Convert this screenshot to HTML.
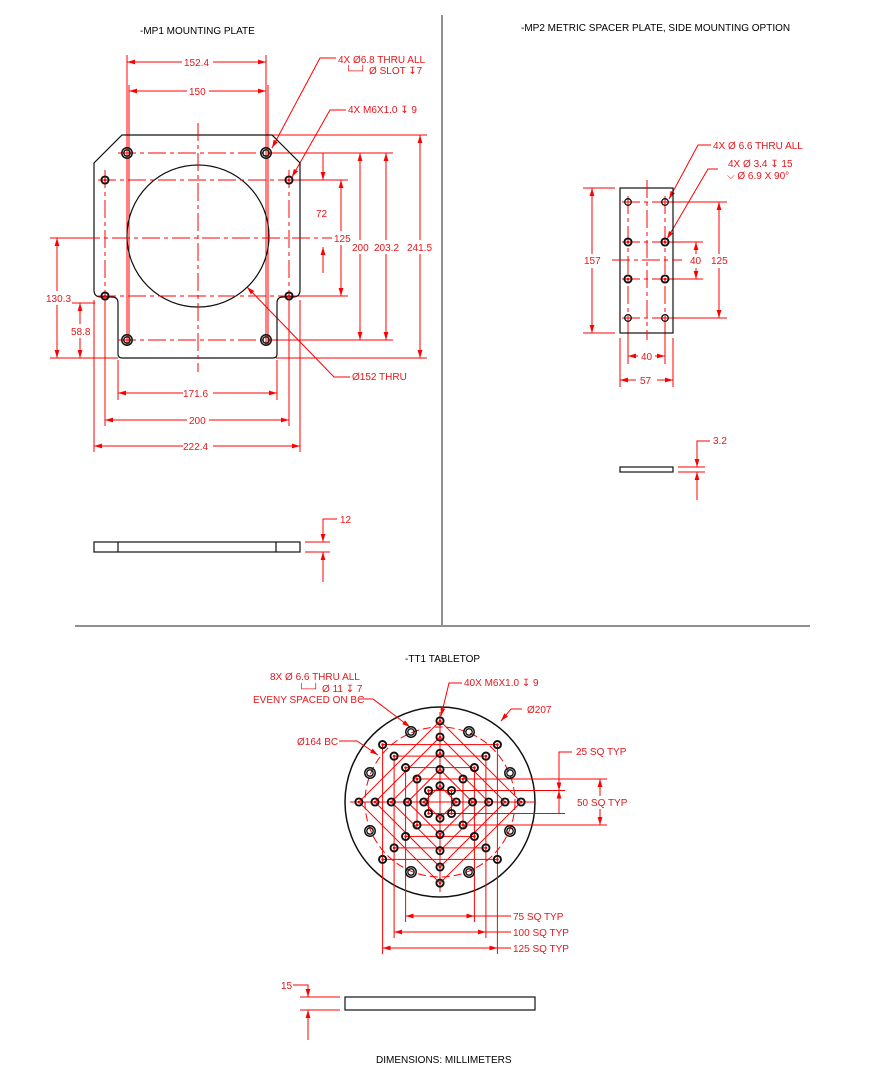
<!DOCTYPE html>
<html><head><meta charset="utf-8"><style>
html,body{margin:0;padding:0;background:#fff;}
svg{display:block;}
text{font-family:"Liberation Sans",sans-serif;font-size:10px;fill:#e8141a;}
text.k{fill:#000;}
.r{stroke:#f00;stroke-width:1;fill:none;}
.b{stroke:#111;stroke-width:1.2;fill:none;}
.cl{stroke:#f00;stroke-width:1;fill:none;stroke-dasharray:18 4 4 4;}
.hd{stroke:#f00;stroke-width:1;fill:none;stroke-dasharray:8 4;}
</style></head><body>
<svg width="879" height="1080" viewBox="0 0 879 1080" xmlns="http://www.w3.org/2000/svg">
<defs>
<marker id="a" viewBox="0 0 10 6" refX="10" refY="3" markerWidth="8" markerHeight="5" orient="auto-start-reverse" markerUnits="userSpaceOnUse"><path d="M0,0 L10,3 L0,6 z" fill="#f00"/></marker>
<g id="h"><circle r="3.6" fill="none" stroke="#111" stroke-width="1.9"/><circle r="1.3" fill="#f00"/></g>
<g id="H"><circle r="5.2" fill="none" stroke="#111" stroke-width="1.5"/><circle r="3.2" fill="none" stroke="#111" stroke-width="1.3"/></g>
</defs>

<line x1="442" y1="15" x2="442" y2="625" stroke="#222" stroke-width="1"/>
<line x1="75" y1="626" x2="810" y2="626" stroke="#222" stroke-width="1"/>

<text class="k" x="140" y="34">-MP1 MOUNTING PLATE</text>
<text class="k" x="521" y="31">-MP2 METRIC SPACER PLATE, SIDE MOUNTING OPTION</text>
<text class="k" x="405" y="662">-TT1 TABLETOP</text>
<text class="k" x="376" y="1063">DIMENSIONS:  MILLIMETERS</text>

<!-- ===== MP1 ===== -->
<g class="r">
<line x1="127" y1="55" x2="127" y2="345"/><line x1="266" y1="55" x2="266" y2="345"/>
<line x1="129" y1="85" x2="129" y2="345"/><line x1="268" y1="85" x2="268" y2="345"/>
<line x1="272" y1="135" x2="427" y2="135"/>
<line x1="270" y1="153" x2="393" y2="153"/>
<line x1="270" y1="340" x2="393" y2="340"/>
<line x1="293" y1="180" x2="348" y2="180"/>
<line x1="293" y1="296" x2="348" y2="296"/>
<line x1="50" y1="358" x2="118" y2="358"/><line x1="276" y1="358" x2="427" y2="358"/>
<line x1="50" y1="238" x2="95" y2="238"/>
<line x1="70" y1="303" x2="95" y2="303"/>
<line x1="118" y1="360" x2="118" y2="400"/><line x1="277" y1="360" x2="277" y2="400"/>
<line x1="105" y1="300" x2="105" y2="426"/><line x1="289" y1="300" x2="289" y2="426"/>
<line x1="94" y1="300" x2="94" y2="452"/><line x1="300" y1="300" x2="300" y2="452"/>
</g>
<g class="r">
<line x1="127" y1="62" x2="182" y2="62" marker-start="url(#a)"/><line x1="213" y1="62" x2="266" y2="62" marker-end="url(#a)"/>
<line x1="129" y1="91" x2="187" y2="91" marker-start="url(#a)"/><line x1="209" y1="91" x2="266" y2="91" marker-end="url(#a)"/>
<line x1="118" y1="393" x2="183" y2="393" marker-start="url(#a)"/><line x1="213" y1="393" x2="277" y2="393" marker-end="url(#a)"/>
<line x1="105" y1="420" x2="187" y2="420" marker-start="url(#a)"/><line x1="209" y1="420" x2="289" y2="420" marker-end="url(#a)"/>
<line x1="94" y1="446" x2="183" y2="446" marker-start="url(#a)"/><line x1="213" y1="446" x2="300" y2="446" marker-end="url(#a)"/>
<line x1="323" y1="153" x2="323" y2="180" marker-end="url(#a)"/>
<line x1="323" y1="273" x2="323" y2="247" marker-end="url(#a)"/>
<line x1="341" y1="180" x2="341" y2="296" marker-start="url(#a)" marker-end="url(#a)"/>
<line x1="360" y1="153" x2="360" y2="340" marker-start="url(#a)" marker-end="url(#a)"/>
<line x1="386" y1="153" x2="386" y2="340" marker-start="url(#a)" marker-end="url(#a)"/>
<line x1="420" y1="135" x2="420" y2="358" marker-start="url(#a)" marker-end="url(#a)"/>
<line x1="57" y1="238" x2="57" y2="358" marker-start="url(#a)" marker-end="url(#a)"/>
<line x1="80" y1="303" x2="80" y2="358" marker-start="url(#a)" marker-end="url(#a)"/>
<polyline points="336,58 320,58 272,148" marker-end="url(#a)"/>
<polyline points="346,110 330,110 292,177" marker-end="url(#a)"/>
<polyline points="350,377 334,377 247,287" marker-end="url(#a)"/>
</g>
<g fill="#fff">
<rect x="332" y="231" width="22" height="14"/><rect x="350" y="240" width="21" height="14"/><rect x="373" y="240" width="28" height="14"/><rect x="405" y="240" width="30" height="14"/>
<rect x="313" y="206" width="16" height="14"/>
<rect x="40" y="291" width="32" height="14"/><rect x="66" y="324" width="26" height="14"/>
</g>
<text x="184" y="66">152.4</text><text x="189" y="95">150</text>
<text x="183" y="397">171.6</text><text x="189" y="424">200</text><text x="183" y="450">222.4</text>
<text x="316" y="217">72</text><text x="334" y="242">125</text><text x="352" y="251">200</text><text x="374" y="251">203.2</text><text x="407" y="251">241.5</text>
<text x="46" y="302">130.3</text><text x="71" y="335">58.8</text>
<text x="338" y="63">4X Ø6.8 THRU ALL</text>
<text x="345" y="74">└─┘ Ø SLOT ↧7</text>
<text x="348" y="113">4X M6X1.0 ↧ 9</text>
<text x="352" y="380">Ø152 THRU</text>
<path class="b" d="M122,135 L272,135 L300,163 L300,290 Q300,297 293,297 L283,297 Q277,297 277,303 L277,354 Q277,358 273,358 L122,358 Q118,358 118,354 L118,303 Q118,297 112,297 L101,297 Q94,297 94,290 L94,163 Z"/>
<circle class="b" cx="198" cy="236" r="71"/>
<g class="cl">
<line x1="198" y1="123" x2="198" y2="372"/>
<line x1="82" y1="238" x2="332" y2="238"/>
<line x1="105" y1="170" x2="105" y2="305"/><line x1="289" y1="170" x2="289" y2="305"/>
<line x1="98" y1="180" x2="300" y2="180"/><line x1="98" y1="296" x2="300" y2="296"/>
<line x1="118" y1="153" x2="275" y2="153"/><line x1="118" y1="340" x2="275" y2="340"/>
</g>
<use href="#H" x="127" y="153"/><use href="#H" x="266" y="153"/><use href="#H" x="127" y="340"/><use href="#H" x="266" y="340"/>
<use href="#h" x="105" y="180"/><use href="#h" x="289" y="180"/><use href="#h" x="105" y="296"/><use href="#h" x="289" y="296"/>
<rect class="b" x="94" y="542" width="206" height="10"/>
<line class="b" x1="118" y1="542" x2="118" y2="552"/><line class="b" x1="276" y1="542" x2="276" y2="552"/>
<g class="r">
<line x1="305" y1="542" x2="330" y2="542"/><line x1="305" y1="552" x2="330" y2="552"/>
<polyline points="337,519 323,519 323,542" marker-end="url(#a)"/>
<line x1="323" y1="582" x2="323" y2="552" marker-end="url(#a)"/>
</g>
<text x="340" y="523">12</text>

<!-- ===== MP2 ===== -->
<g class="r">
<line x1="583" y1="188" x2="615" y2="188"/><line x1="583" y1="333" x2="615" y2="333"/>
<line x1="670" y1="202" x2="727" y2="202"/><line x1="670" y1="318" x2="727" y2="318"/>
<line x1="670" y1="242" x2="703" y2="242"/><line x1="670" y1="279" x2="703" y2="279"/>
<line x1="620" y1="338" x2="620" y2="387"/><line x1="673" y1="338" x2="673" y2="387"/>
<line x1="628" y1="320" x2="628" y2="364"/><line x1="665" y1="320" x2="665" y2="364"/>
<line x1="592" y1="188" x2="592" y2="333" marker-start="url(#a)" marker-end="url(#a)"/>
<line x1="719" y1="202" x2="719" y2="318" marker-start="url(#a)" marker-end="url(#a)"/>
<line x1="696" y1="242" x2="696" y2="279" marker-start="url(#a)" marker-end="url(#a)"/>
<line x1="628" y1="356" x2="638" y2="356" marker-start="url(#a)"/><line x1="655" y1="356" x2="665" y2="356" marker-end="url(#a)"/>
<line x1="620" y1="380" x2="636" y2="380" marker-start="url(#a)"/><line x1="657" y1="380" x2="673" y2="380" marker-end="url(#a)"/>
<polyline points="711,145 698,145 669,199" marker-end="url(#a)"/>
<polyline points="718,169 708,169 667,239" marker-end="url(#a)"/>
</g>
<g fill="#fff"><rect x="582" y="254" width="22" height="14"/><rect x="688" y="254" width="16" height="14"/><rect x="709" y="254" width="22" height="14"/></g>
<text x="584" y="264">157</text><text x="690" y="264">40</text><text x="711" y="264">125</text>
<text x="641" y="360">40</text><text x="640" y="384">57</text>
<text x="713" y="149">4X  Ø  6.6 THRU ALL</text>
<text x="728" y="167">4X  Ø  3.4 ↧ 15</text>
<text x="727" y="179">⌵  Ø  6.9 X 90°</text>
<rect class="b" x="620" y="188" width="53" height="145"/>
<g class="cl">
<line x1="647" y1="180" x2="647" y2="340"/>
<line x1="612" y1="260" x2="682" y2="260"/>
<line x1="628" y1="196" x2="628" y2="324"/><line x1="665" y1="196" x2="665" y2="324"/>
<line x1="622" y1="202" x2="671" y2="202"/><line x1="622" y1="242" x2="671" y2="242"/><line x1="622" y1="279" x2="671" y2="279"/><line x1="622" y1="318" x2="671" y2="318"/>
</g>
<g fill="none" stroke="#111" stroke-width="1.3">
<circle cx="628" cy="202" r="3.3"/><circle cx="665" cy="202" r="3.3"/><circle cx="628" cy="318" r="3.3"/><circle cx="665" cy="318" r="3.3"/>
</g>
<use href="#h" x="628" y="242"/><use href="#h" x="665" y="242"/><use href="#h" x="628" y="279"/><use href="#h" x="665" y="279"/>
<rect class="b" x="620" y="467" width="53" height="5"/>
<g class="r">
<line x1="678" y1="467" x2="705" y2="467"/><line x1="678" y1="472" x2="705" y2="472"/>
<polyline points="710,441 697,441 697,467" marker-end="url(#a)"/>
<line x1="697" y1="500" x2="697" y2="472" marker-end="url(#a)"/>
</g>
<text x="713" y="444">3.2</text>

<!-- ===== TT1 ===== -->
<circle cx="440" cy="802" r="95" fill="none" stroke="#111" stroke-width="1.5"/>
<circle cx="440" cy="802" r="75" class="hd"/>
<g class="r">
<rect x="428.5" y="790.5" width="23" height="23"/>
<rect x="417" y="779" width="46" height="46"/>
<rect x="405.6" y="767.6" width="68.8" height="68.8"/>
<rect x="394.1" y="756.1" width="91.8" height="91.8"/>
<rect x="382.6" y="744.6" width="114.8" height="114.8"/>
<polygon points="440,785.8 456.2,802 440,818.2 423.8,802"/>
<polygon points="440,769.5 472.5,802 440,834.5 407.5,802"/>
<polygon points="440,753.3 488.7,802 440,850.7 391.3,802"/>
<polygon points="440,737 505,802 440,867 375,802"/>
<polygon points="440,720.9 521.1,802 440,883.1 358.9,802"/>
<line x1="350" y1="802" x2="535" y2="802"/>
<line x1="440" y1="712" x2="440" y2="892"/>
<line x1="452" y1="790.5" x2="565" y2="790.5"/><line x1="452" y1="813.5" x2="565" y2="813.5"/>
<line x1="464" y1="779" x2="607" y2="779"/><line x1="464" y1="825" x2="607" y2="825"/>
<line x1="405.6" y1="837" x2="405.6" y2="922"/><line x1="474.4" y1="837" x2="474.4" y2="922"/>
<line x1="394.1" y1="849" x2="394.1" y2="938"/><line x1="485.9" y1="849" x2="485.9" y2="938"/>
<line x1="382.6" y1="860" x2="382.6" y2="954"/><line x1="497.4" y1="860" x2="497.4" y2="954"/>
<polyline points="572,752 559,752 559,790.5" marker-end="url(#a)"/>
<line x1="559" y1="813.5" x2="559" y2="790.5" marker-end="url(#a)"/>
<line x1="600" y1="779" x2="600" y2="825" marker-start="url(#a)" marker-end="url(#a)"/>
<line x1="405.6" y1="916" x2="474.4" y2="916" marker-start="url(#a)" marker-end="url(#a)"/><line x1="474" y1="916" x2="511" y2="916"/>
<line x1="394.1" y1="932" x2="485.9" y2="932" marker-start="url(#a)" marker-end="url(#a)"/><line x1="486" y1="932" x2="511" y2="932"/>
<line x1="382.6" y1="948" x2="497.4" y2="948" marker-start="url(#a)" marker-end="url(#a)"/><line x1="497" y1="948" x2="511" y2="948"/>
<polyline points="359,699 373,699 410,727" marker-end="url(#a)"/>
<polyline points="339,741 357,741 378,755" marker-end="url(#a)"/>
<polyline points="462,683 449,683 441,716" marker-end="url(#a)"/>
<polyline points="522,709 511,709 501,721" marker-end="url(#a)"/>
</g>
<rect x="575" y="796" width="52" height="13" fill="#fff"/>
<text x="576" y="755">25 SQ TYP</text>
<text x="577" y="806">50 SQ TYP</text>
<text x="513" y="920">75 SQ TYP</text>
<text x="513" y="936">100 SQ TYP</text>
<text x="513" y="952">125 SQ TYP</text>
<text x="270" y="680">8X  Ø  6.6 THRU ALL</text>
<text x="298" y="692">└─┘  Ø  11 ↧ 7</text>
<text x="253" y="703">EVENY SPACED ON BC</text>
<text x="297" y="745">Ø164 BC</text>
<text x="464" y="686">40X M6X1.0 ↧ 9</text>
<text x="527" y="713">Ø207</text>
<use href="#H" x="411" y="732"/><use href="#H" x="469" y="732"/>
<use href="#H" x="370" y="773"/><use href="#H" x="510" y="773"/>
<use href="#H" x="370" y="831"/><use href="#H" x="510" y="831"/>
<use href="#H" x="411" y="872"/><use href="#H" x="469" y="872"/>
<g id="q">
<use href="#h" x="456.2" y="802"/><use href="#h" x="472.5" y="802"/><use href="#h" x="488.7" y="802"/><use href="#h" x="505" y="802"/><use href="#h" x="521.1" y="802"/>
<use href="#h" x="451.5" y="790.5"/><use href="#h" x="463" y="779"/><use href="#h" x="474.4" y="767.6"/><use href="#h" x="485.9" y="756.1"/><use href="#h" x="497.4" y="744.6"/>
</g>
<use href="#q" transform="rotate(90 440 802)"/>
<use href="#q" transform="rotate(180 440 802)"/>
<use href="#q" transform="rotate(270 440 802)"/>
<rect class="b" x="345" y="997" width="190" height="13"/>
<g class="r">
<line x1="300" y1="997" x2="340" y2="997"/><line x1="300" y1="1010" x2="340" y2="1010"/>
<polyline points="293,985 308,985 308,997" marker-end="url(#a)"/>
<line x1="308" y1="1040" x2="308" y2="1010" marker-end="url(#a)"/>
</g>
<text x="281" y="989">15</text>
</svg>
</body></html>
